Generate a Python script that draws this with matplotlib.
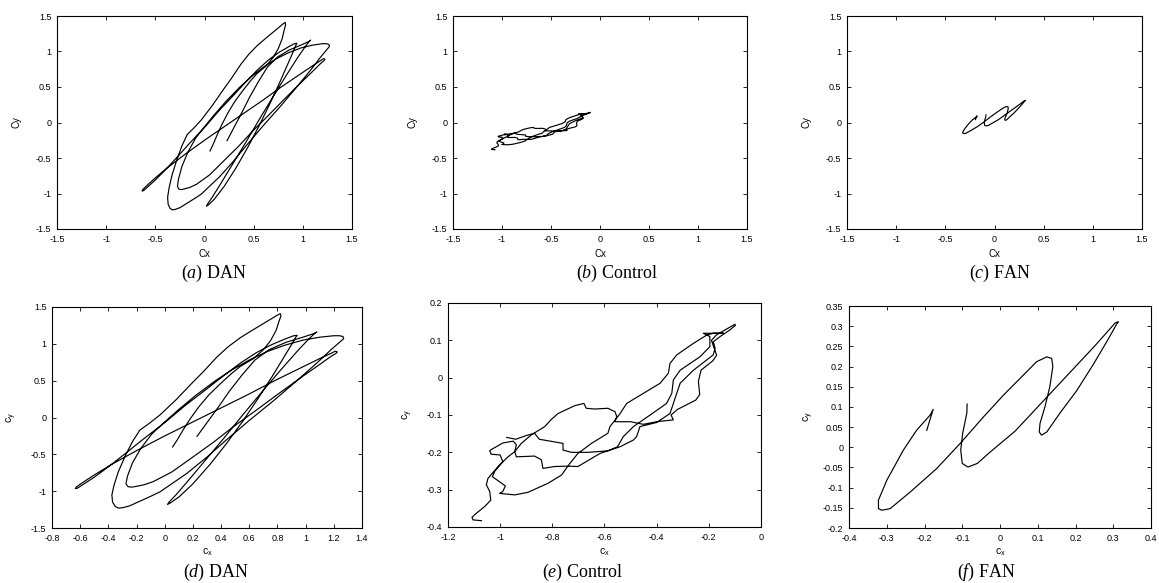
import matplotlib
matplotlib.use("Agg")
import matplotlib.pyplot as plt
from matplotlib.ticker import MultipleLocator, FuncFormatter

plt.rcParams['font.family'] = ['Liberation Sans', 'DejaVu Sans']
plt.rcParams['mathtext.fontset'] = 'custom'
plt.rcParams['mathtext.rm'] = 'Liberation Serif'
plt.rcParams['mathtext.it'] = 'Liberation Serif:italic'
plt.rcParams['mathtext.sf'] = 'Liberation Sans'

# ---------------- data ----------------
# DAN trajectory
dan_cx = [0.056, 0.09, 0.13, 0.18, 0.24, 0.31, 0.39, 0.47, 0.534, 0.629, 0.70, 0.75, 0.79, 0.81, 0.825, 0.82, 0.80,
          0.74, 0.67, 0.605, 0.534, 0.45, 0.37, 0.274, 0.19, 0.08, -0.034, -0.11, -0.176, -0.23, -0.28, -0.33, -0.36,
          -0.375, -0.37, -0.35, -0.327, -0.30,
          -0.25, -0.18, -0.10, -0.034, 0.05, 0.156, 0.298, 0.44, 0.60, 0.78, 0.95, 1.08, 1.18, 1.24, 1.27, 1.265, 1.24, 1.20,
          1.10, 0.98, 0.85, 0.72, 0.60, 0.48, 0.36, 0.22, 0.10, 0.0, -0.09, -0.17, -0.23, -0.265, -0.275, -0.26, -0.23,
          -0.15, -0.081, 0.05, 0.203, 0.35, 0.487, 0.65, 0.82, 0.98, 1.10, 1.18, 1.215, 1.225, 1.21, 1.19,
          1.10, 0.95, 0.78, 0.60, 0.40, 0.20, 0.0, -0.20, -0.38, -0.50, -0.58, -0.625, -0.635, -0.62,
          -0.58, -0.50, -0.40, -0.28, -0.15, 0.0, 0.15, 0.30, 0.42, 0.534, 0.65, 0.76, 0.86, 0.915, 0.94,
          0.93, 0.90, 0.84, 0.76, 0.66, 0.55, 0.44, 0.32, 0.20, 0.10, 0.04, 0.02, 0.03,
          0.08, 0.17, 0.28, 0.42, 0.56, 0.70, 0.83, 0.95, 1.03, 1.07, 1.08,
          1.06, 0.98, 0.86, 0.74, 0.64, 0.55, 0.46, 0.38, 0.30, 0.229]
dan_cy = [-0.40, -0.30, -0.17, -0.02, 0.14, 0.30, 0.45, 0.59, 0.69, 0.80, 0.92, 1.04, 1.18, 1.30, 1.38, 1.41, 1.39,
          1.32, 1.24, 1.165, 1.08, 0.96, 0.82, 0.622, 0.46, 0.24, 0.034, -0.08, -0.17, -0.33, -0.52, -0.74, -0.92,
          -1.05, -1.15, -1.21, -1.23, -1.225,
          -1.20, -1.14, -1.07, -1.01, -0.90, -0.76, -0.54, -0.30, -0.04, 0.24, 0.52, 0.74, 0.92, 1.02, 1.07, 1.10, 1.11, 1.11,
          1.09, 1.05, 0.98, 0.89, 0.78, 0.65, 0.50, 0.30, 0.11, -0.06, -0.22, -0.42, -0.62, -0.80, -0.90, -0.94, -0.945,
          -0.915, -0.87, -0.74, -0.532, -0.33, -0.125, 0.10, 0.34, 0.56, 0.72, 0.83, 0.87, 0.89, 0.90, 0.88,
          0.80, 0.66, 0.50, 0.32, 0.13, -0.06, -0.25, -0.45, -0.64, -0.78, -0.88, -0.94, -0.965, -0.96,
          -0.91, -0.81, -0.67, -0.49, -0.29, -0.07, 0.17, 0.39, 0.57, 0.735, 0.88, 0.99, 1.07, 1.11, 1.115,
          1.09, 0.99, 0.80, 0.55, 0.25, -0.06, -0.35, -0.64, -0.90, -1.08, -1.16, -1.18, -1.15,
          -1.05, -0.85, -0.60, -0.28, 0.05, 0.37, 0.66, 0.92, 1.08, 1.15, 1.16,
          1.14, 1.09, 1.02, 0.92, 0.78, 0.58, 0.36, 0.14, -0.07, -0.256]

# Control trajectory
ctl_cx = [-1.072, -1.104, -1.108, -1.091, -1.059, -1.036, -1.040, -1.053, -1.047,
          -1.008, -0.970, -0.944, -0.919, -0.880, -0.829, -0.804, -0.778, -0.714, -0.679, -0.670, -0.638, -0.587,
          -0.560, -0.553, -0.560,
          -0.500, -0.451, -0.400, -0.336, -0.345, -0.320, -0.250, -0.235, -0.240, -0.230, -0.185, -0.170, -0.180,
          -0.190, -0.170, -0.120, -0.100, -0.098,
          -0.119, -0.157, -0.183, -0.176, -0.183, -0.259, -0.310, -0.336, -0.349, -0.400, -0.464, -0.477, -0.489,
          -0.540, -0.617, -0.702,
          -0.740, -0.791, -0.836, -0.842, -0.868, -0.938, -0.944, -0.938, -0.950, -0.990, -1.040, -1.035, -1.000,
          -0.990, -1.020, -1.030, -1.000, -0.980, -0.990, -1.002,
          -0.944, -0.893, -0.817, -0.765, -0.733, -0.702, -0.650, -0.587, -0.579, -0.540, -0.515, -0.451, -0.387,
          -0.355, -0.349, -0.323, -0.259, -0.208, -0.183, -0.144, -0.221,
          -0.196, -0.196, -0.234, -0.310, -0.336, -0.342, -0.362, -0.425, -0.489, -0.528, -0.550, -0.587, -0.663,
          -0.727, -0.759, -0.759, -0.800, -0.850, -0.868, -0.900, -0.940, -0.975]
ctl_cy = [-0.383, -0.381, -0.374, -0.363, -0.345, -0.328, -0.305, -0.287, -0.270,
          -0.238, -0.212, -0.198, -0.176, -0.153, -0.131, -0.112, -0.096, -0.075, -0.069, -0.082, -0.084, -0.082,
          -0.091, -0.104, -0.118,
          -0.118, -0.125, -0.118, -0.113, -0.100, -0.085, -0.060, -0.045, -0.010, 0.020, 0.045, 0.060, 0.080,
          0.100, 0.115, 0.135, 0.143, 0.140,
          0.128, 0.110, 0.096, 0.079, 0.061, 0.020, -0.015, -0.069, -0.096, -0.120, -0.131, -0.158, -0.167,
          -0.185, -0.203, -0.238,
          -0.237, -0.238, -0.243, -0.220, -0.210, -0.212, -0.198, -0.180, -0.170, -0.175, -0.195, -0.205, -0.207,
          -0.225, -0.250, -0.265, -0.280, -0.290, -0.305, -0.310,
          -0.314, -0.307, -0.283, -0.261, -0.230, -0.203, -0.176, -0.149, -0.131, -0.096, -0.069, -0.042, -0.015,
          0.012, 0.038, 0.061, 0.092, 0.114, 0.119, 0.119, 0.119,
          0.110, 0.083, 0.056, 0.020, -0.006, -0.042, -0.069, -0.100, -0.131, -0.158, -0.185, -0.196, -0.200,
          -0.200, -0.194, -0.176, -0.171, -0.165, -0.149, -0.155, -0.165, -0.160]

# FAN trajectory
fan_cx = [-0.194, -0.185, -0.177, -0.185, -0.221, -0.256, -0.300, -0.322, -0.322, -0.313, -0.291, -0.238, -0.168,
          -0.106, -0.044, 0.009, 0.062, 0.097, 0.124, 0.137, 0.140, 0.132, 0.119, 0.106, 0.104, 0.110, 0.124,
          0.159, 0.203, 0.247, 0.283, 0.300, 0.309, 0.314, 0.305, 0.290, 0.250, 0.200, 0.120, 0.040, -0.030,
          -0.060, -0.085, -0.100, -0.104, -0.099, -0.088, -0.087]
fan_cy = [0.042, 0.070, 0.094, 0.080, 0.042, -0.007, -0.082, -0.131, -0.152, -0.156, -0.152, -0.111, -0.053,
          0.009, 0.075, 0.129, 0.179, 0.212, 0.224, 0.220, 0.200, 0.150, 0.100, 0.059, 0.038, 0.030, 0.038,
          0.085, 0.140, 0.205, 0.262, 0.290, 0.305, 0.311, 0.308, 0.292, 0.250, 0.200, 0.120, 0.040, -0.015,
          -0.040, -0.049, -0.040, -0.007, 0.034, 0.084, 0.107]

captions = ['a', 'b', 'c', 'd', 'e', 'f']
names = ['DAN', 'Control', 'FAN', 'DAN', 'Control', 'FAN']

# ---------------- figure ----------------
W, H = 1159, 583
fig = plt.figure(figsize=(W / 100, H / 100), dpi=100)


def px_axes(l, t, r, b):
    return fig.add_axes([l / W, 1 - b / H, (r - l) / W, (b - t) / H])


def fmt(v, pos):
    v = round(v, 6) + 0.0
    return '%g' % v


def style(ax, xlim, ylim, xstep, ystep):
    ax.set_xlim(*xlim)
    ax.set_ylim(*ylim)
    ax.xaxis.set_major_locator(MultipleLocator(xstep))
    ax.yaxis.set_major_locator(MultipleLocator(ystep))
    ax.xaxis.set_major_formatter(FuncFormatter(fmt))
    ax.yaxis.set_major_formatter(FuncFormatter(fmt))
    ax.tick_params(direction='in', top=True, right=True, length=3, width=0.6,
                   labelsize=6.5, pad=4)
    for s in ax.spines.values():
        s.set_linewidth(0.8)


boxes = [(57, 16, 352, 229), (453, 16, 747, 229), (847, 16, 1142, 229),
         (52, 307, 362, 528), (448, 303, 761, 527), (849, 306, 1151, 528)]
series = [(dan_cx, dan_cy), (ctl_cx, ctl_cy), (fan_cx, fan_cy)] * 2
limits = [((-1.5, 1.5), (-1.5, 1.5), 0.5, 0.5)] * 3 + [
    ((-0.8, 1.4), (-1.5, 1.5), 0.2, 0.5),
    ((-1.2, 0.0), (-0.4, 0.2), 0.2, 0.1),
    ((-0.4, 0.4), (-0.2, 0.35), 0.1, 0.05)]
cap_x = [214, 617, 1000, 216, 583, 987]

for i in range(6):
    l, t, r, b = boxes[i]
    ax = px_axes(l, t, r, b)
    xs, ys = series[i]
    ax.plot(xs, ys, color='black', lw=0.85)
    xl, yl, xs_, ys_ = limits[i]
    style(ax, xl, yl, xs_, ys_)
    if i < 3:
        ax.set_xlabel('Cx', fontsize=7)
        ax.set_ylabel('Cy', fontsize=7)
        lab_y, cap_base, ylab_x = 254, 278, l - 40
    else:
        ax.set_xlabel(r'c$_\mathsf{x}$', fontsize=7.5)
        ax.set_ylabel(r'c$_\mathsf{y}$', fontsize=7.5)
        lab_y, cap_base, ylab_x = 552, 577, l - 40
    ax.xaxis.set_label_coords((l + r) / 2 / W, 1 - lab_y / H, transform=fig.transFigure)
    ax.xaxis.label.set_va('center')
    ax.yaxis.set_label_coords(ylab_x / W, 1 - (t + b) / 2 / H, transform=fig.transFigure)
    ax.yaxis.label.set_va('center')
    fig.text(cap_x[i] / W, 1 - cap_base / H, r'$(\mathit{%s})$ %s' % (captions[i], names[i]),
             family='Liberation Serif', fontsize=13, ha='center', va='baseline')

fig.savefig('out.png', dpi=100)
